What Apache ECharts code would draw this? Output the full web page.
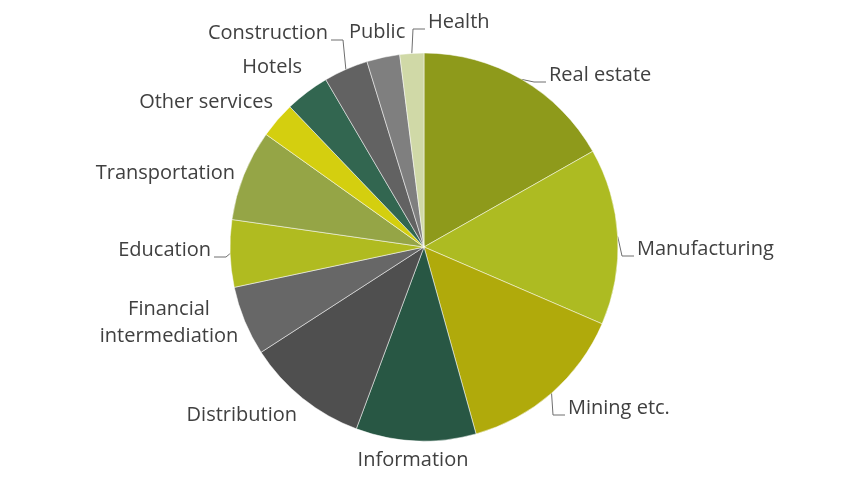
<!DOCTYPE html>
<html>
<head>
<meta charset="utf-8">
<script src="https://cdn.jsdelivr.net/npm/echarts@6/dist/echarts.min.js"></script>
<style>
  html, body { margin: 0; padding: 0; background: #fff; }
  #main { width: 848px; height: 495px; }
</style>
</head>
<body>
<div id="main"></div>
<script>
// sectors, clockwise from 12 o'clock (share of total, %)
var sectors = ['Real estate', 'Manufacturing', 'Mining etc.', 'Information', 'Distribution',
    'Financial intermediation', 'Education', 'Transportation', 'Other services', 'Hotels',
    'Construction', 'Public', 'Health'];
var shares = [16.8, 14.7, 14.2, 10.0, 10.2, 5.8, 5.6, 7.6, 3.0, 3.7, 3.7, 2.75, 2.0];
var colors = ['#8e9a1b', '#adbb22', '#b0aa0b', '#285744', '#4f4f4f', '#676767', '#b0bb20',
    '#95a546', '#d4cf0f', '#326650', '#626262', '#7f7f7f', '#d0d9a7'];

// where each label text sits (x, y of anchor, align) and whether it has a leader line
var labelSpots = [
    [549, 75, 'left', true],
    [637, 249, 'left', true],
    [568, 408, 'left', true],
    [413, 460, 'center', false],
    [297, 415, 'right', false],
    [169, 323, 'center', false],
    [211, 250, 'right', true],
    [235, 173, 'right', false],
    [273, 102, 'right', false],
    [302, 67, 'right', false],
    [328, 33, 'right', true],
    [349, 32, 'left', false],
    [428, 22, 'left', true]
];

var pieData = [];
for (var i = 0; i < sectors.length; i++) {
    pieData.push({
        name: sectors[i],
        value: shares[i],
        itemStyle: { color: colors[i] },
        labelLine: { show: labelSpots[i][3] }
    });
}

var option = {
    animation: false,
    series: [
        {
            type: 'pie',
            center: [424, 247],
            radius: 194,
            startAngle: 90,
            clockwise: true,
            itemStyle: { borderColor: '#ffffff', borderWidth: 0.5 },
            label: {
                show: true,
                position: 'outside',
                fontFamily: 'Open Sans',
                fontSize: 20,
                color: '#404040',
                lineHeight: 27,
                formatter: function (p) {
                    return p.name === 'Financial intermediation' ? 'Financial\nintermediation' : p.name;
                }
            },
            labelLine: {
                show: true,
                length: 8,
                length2: 8,
                lineStyle: { color: '#6e6e6e', width: 1 }
            },
            labelLayout: function (params) {
                var s = labelSpots[params.dataIndex];
                var res = { x: s[0], y: s[1], align: s[2], verticalAlign: 'middle' };
                if (s[3] && params.labelLinePoints) {
                    var p0 = params.labelLinePoints[0];
                    var dir = s[2] === 'right' ? 1 : -1;
                    var ly = s[1] + 7;
                    res.labelLinePoints = [
                        [p0[0], p0[1]],
                        [s[0] + dir * 15, ly],
                        [s[0] + dir * 3, ly]
                    ];
                }
                return res;
            },
            data: pieData
        }
    ]
};

var chart = echarts.init(document.getElementById('main'));
chart.setOption(option);
</script>
</body>
</html>
